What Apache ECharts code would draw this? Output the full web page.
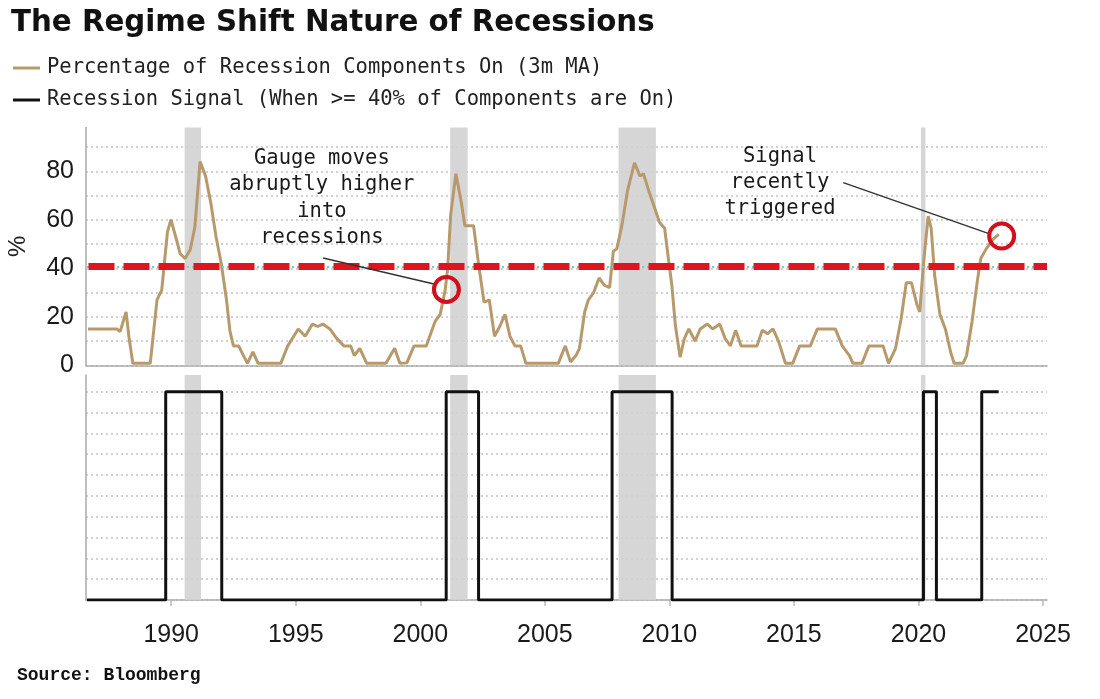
<!DOCTYPE html>
<html>
<head>
<meta charset="utf-8">
<script src="https://cdn.jsdelivr.net/npm/echarts@6/dist/echarts.min.js"></script>
<style>
html,body{margin:0;padding:0;background:#fff;}
#c{width:1100px;height:699px;}
</style>
</head>
<body>
<div id="c"></div>
<script>
// ---- data ----
var gaugeYears = [1986.66,1987.82,1987.95,1988.19,1988.3,1988.46,1989.16,1989.43,1989.62,1989.85,1989.99,1990.18,1990.36,1990.56,1990.76,1990.95,1991.16,1991.38,1991.59,1991.8,1992.01,1992.22,1992.36,1992.5,1992.71,1992.85,1993.06,1993.28,1993.49,1994.4,1994.68,1995.1,1995.38,1995.67,1995.88,1996.09,1996.37,1996.65,1996.93,1997.21,1997.35,1997.57,1997.85,1998.62,1998.97,1999.18,1999.46,1999.75,2000.24,2000.59,2000.8,2001.0,2001.1,2001.22,2001.43,2001.65,2001.79,2002.14,2002.35,2002.56,2002.77,2002.98,2003.19,2003.4,2003.6,2003.8,2004.03,2004.24,2005.54,2005.82,2006.03,2006.25,2006.39,2006.6,2006.75,2006.96,2007.18,2007.39,2007.6,2007.75,2007.89,2008.1,2008.32,2008.6,2008.82,2008.96,2009.17,2009.39,2009.6,2009.81,2009.96,2010.1,2010.24,2010.43,2010.6,2010.78,2011.03,2011.24,2011.52,2011.74,2012.02,2012.24,2012.45,2012.66,2012.88,2013.52,2013.73,2013.95,2014.16,2014.38,2014.66,2014.95,2015.23,2015.66,2015.94,2016.66,2016.94,2017.23,2017.37,2017.73,2018.01,2018.58,2018.8,2019.08,2019.3,2019.51,2019.72,2019.94,2020.05,2020.22,2020.39,2020.51,2020.65,2020.86,2021.08,2021.29,2021.43,2021.79,2021.93,2022.15,2022.36,2022.5,2022.72,2023.0,2023.22];
var gaugeValues = [15,15,13.9,22,12,0.8,0.8,27,31,55,60,53,46,44,47.5,57,84,78,67,53,42,27,14,8,8,5,0.8,5.5,0.8,0.8,8,15,12,17,16,17,15,11,8,8,4,7,0.8,0.8,7,0.8,1,8,8,18,21,31,40,62,79,67,57.5,57.5,41,26,27,12,16,21,12,8,8,0.8,0.8,8,1.4,4,7,22,27,30,36,33,32,47,48,58,72,83.5,78,79,72,65.5,59,56.5,44,33,16.5,3.4,11,15,10,15,17,15,17,11,8,14.5,8,8,14.5,13,15,10,0.8,0.8,8,8,15,15,8,4,0.8,0.8,8,8,0.8,7,19,34,34,25,22,44,61.5,56.5,37,21,15,5.5,0.8,0.8,4,18,34.5,44,48,52,54];
var signalYears  = [1986.62,1989.78,1989.78,1992.03,1992.03,2001.04,2001.04,2002.34,2002.34,2007.7,2007.7,2010.11,2010.11,2020.2,2020.2,2020.72,2020.72,2022.54,2022.54,2023.22];
var signalValues = [0,0,1,1,0,0,1,1,0,0,1,1,0,0,1,1,0,0,1,1];
var recessions = [[1990.54,1991.2],[2001.2,2001.9],[2007.96,2009.46],[2020.1,2020.28]];
var xTickLabels = [1990,1995,2000,2005,2010,2015,2020,2025];
var topYLabels = [0,20,40,60,80];
var threshold = 41;
var circle1 = [2001.05, 31.3];
var circle2 = [2023.34, 53.3];
var arrow1 = [[1996.1,44.2],[2000.55,33.5]];
var arrow2 = [[2016.98,75.3],[2022.8,54.4]];
var note1 = {pos:[1996.05, 69], text:'Gauge moves\nabruptly higher\ninto\nrecessions'};
var note2 = {pos:[2014.44, 75.2], text:'Signal\nrecently\ntriggered'};

var TAN = '#b8996b';
var RED = '#e0141f';
var MONO = '"DejaVu Sans Mono", monospace';
var SANS = '"Liberation Sans", Arial, sans-serif';

function pairs(xs, ys){ var o=[]; for(var i=0;i<xs.length;i++) o.push([xs[i], ys[i]]); return o; }
var shade = recessions.map(function(r){ return [{xAxis:r[0]},{xAxis:r[1]}]; });

var XMIN = 1986.58, XMAX = 2025.16;
var gridLine = {show:true, lineStyle:{color:'#c4c4c4', type:[2,3], width:1.5}, showMaxLine:false};

var chart = echarts.init(document.getElementById('c'));
chart.setOption({
  animation:false,
  backgroundColor:'#fff',
  title:[
    {text:'The Regime Shift Nature of Recessions', left:6, top:4,
     textStyle:{fontFamily:'"DejaVu Sans", Verdana, sans-serif', fontWeight:'bold', fontSize:29.3, color:'#111'}},
    {text:'Source: Bloomberg', left:12, top:661,
     textStyle:{fontFamily:'"Liberation Mono", monospace', fontWeight:'bold', fontSize:18, color:'#111'}}
  ],
  legend:{
    orient:'vertical', left:8, top:51, itemGap:8, itemWidth:27, itemHeight:3,
    selectedMode:false, icon:'rect',
    textStyle:{fontFamily:MONO, fontSize:20.5, color:'#222', lineHeight:24, padding:[0,0,0,2]},
    data:['Percentage of Recession Components On (3m MA)','Recession Signal (When >= 40% of Components are On)']
  },
  grid:[
    {left:86, top:127.6, width:961, height:237.7, outerBoundsMode:'none', containLabel:false},
    {left:86, top:375, width:961, height:225, outerBoundsMode:'none', containLabel:false}
  ],
  xAxis:[
    {type:'value', gridIndex:0, min:XMIN, max:XMAX,
     axisLine:{show:true, onZero:false, lineStyle:{color:'#aaa', width:1.5}},
     axisTick:{show:false}, axisLabel:{show:false}, splitLine:{show:false}},
    {type:'value', gridIndex:1, min:XMIN, max:XMAX,
     axisLine:{show:true, onZero:false, lineStyle:{color:'#aaa', width:1.5}},
     axisTick:{show:true, length:6, customValues:xTickLabels, lineStyle:{color:'#bbb', width:1.5}},
     axisLabel:{show:true, customValues:xTickLabels, margin:23, fontFamily:SANS, fontSize:25, color:'#1a1a1a',
       formatter:function(v){return String(v);}},
     splitLine:{show:false}}
  ],
  yAxis:[
    {type:'value', gridIndex:0, min:0, max:98, interval:10,
     name:'%', nameLocation:'middle', nameRotate:90, nameGap:56,
     nameTextStyle:{fontFamily:SANS, fontSize:24, color:'#222'},
     axisLine:{show:true, lineStyle:{color:'#aaa', width:1.5}}, axisTick:{show:false},
     axisLabel:{margin:12, fontFamily:SANS, fontSize:25, color:'#1a1a1a',
       formatter:function(v){ return topYLabels.indexOf(v) >= 0 ? String(v) : ''; }},
     splitLine:gridLine},
    {type:'value', gridIndex:1, min:0, max:1.08, interval:0.1,
     axisLine:{show:true, lineStyle:{color:'#aaa', width:1.5}}, axisTick:{show:false},
     axisLabel:{show:false}, splitLine:gridLine}
  ],
  series:[
    {name:'Percentage of Recession Components On (3m MA)', type:'line', xAxisIndex:0, yAxisIndex:0,
     data:pairs(gaugeYears, gaugeValues), showSymbol:false, symbol:'none',
     lineStyle:{color:TAN, width:3}, itemStyle:{color:TAN}, z:3,
     markArea:{silent:true, itemStyle:{color:'#d2d2d2', opacity:0.9}, data:shade}
    },
    {name:'threshold', type:'line', xAxisIndex:0, yAxisIndex:0, data:[], z:5,
     markLine:{silent:true, symbol:['none','none'], animation:false, label:{show:false},
       data:[
         [{coord:[XMIN+0.04, 40.6], lineStyle:{color:'#6fd4c2', width:2, type:[2,3]}},{coord:[XMAX, 40.6]}],
         [{coord:[XMIN+0.1, threshold], lineStyle:{color:RED, width:7, type:[26,9], cap:'butt'}},{coord:[XMAX, threshold]}]
       ]}
    },
    {name:'notes', type:'line', xAxisIndex:0, yAxisIndex:0, data:[], z:6,
     markLine:{silent:true, symbol:['none','none'], label:{show:false},
       lineStyle:{color:'#333', width:1.5, type:'solid'},
       data:[
         [{coord:arrow1[0]},{coord:arrow1[1]}],
         [{coord:arrow2[0]},{coord:arrow2[1]}]
       ]},
     markPoint:{silent:true,
       data:[
         {coord:circle1, symbol:'circle', symbolSize:25, itemStyle:{color:'rgba(0,0,0,0)', borderColor:'#d0101c', borderWidth:4}, label:{show:false}},
         {coord:circle2, symbol:'circle', symbolSize:25, itemStyle:{color:'rgba(0,0,0,0)', borderColor:'#d0101c', borderWidth:4}, label:{show:false}},
         {coord:note1.pos, symbol:'circle', symbolSize:0, label:{show:true, position:'inside', formatter:note1.text, align:'center', verticalAlign:'middle',
            fontFamily:MONO, fontSize:20.5, lineHeight:26.5, color:'#1a1a1a'}},
         {coord:note2.pos, symbol:'circle', symbolSize:0, label:{show:true, position:'inside', formatter:note2.text, align:'center', verticalAlign:'middle',
            fontFamily:MONO, fontSize:20.5, lineHeight:26, color:'#1a1a1a'}}
       ]}
    },
    {name:'Recession Signal (When >= 40% of Components are On)', type:'line', xAxisIndex:1, yAxisIndex:1,
     data:pairs(signalYears, signalValues), showSymbol:false, symbol:'none',
     lineStyle:{color:'#111', width:3}, itemStyle:{color:'#111'}, z:3,
     markArea:{silent:true, itemStyle:{color:'#d2d2d2', opacity:0.9}, data:shade}
    }
  ]
});
</script>
</body>
</html>
